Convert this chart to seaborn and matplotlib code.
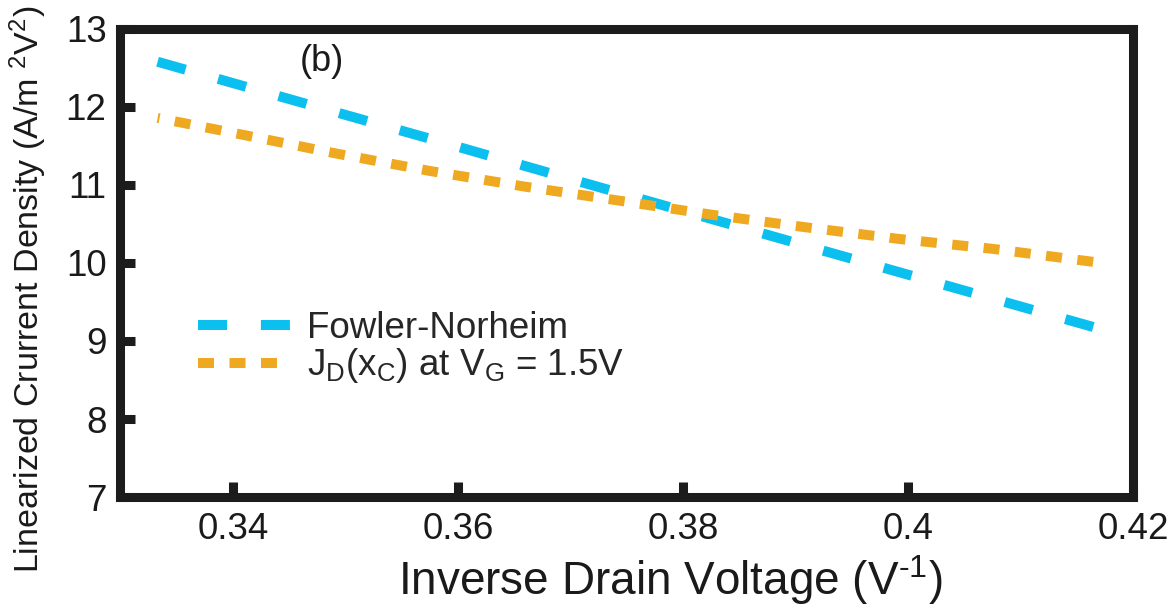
import matplotlib
matplotlib.use("Agg")
import matplotlib.pyplot as plt
import seaborn as sns
import pandas as pd
from matplotlib.ticker import FormatStrFormatter

# ---- data ----
fn_x = [0.3333, 0.3448, 0.3571, 0.3704, 0.3846, 0.4000, 0.4167]
fn_y = [12.58, 12.11, 11.61, 11.06, 10.48, 9.85, 9.17]

jd_x = [0.3333, 0.3410, 0.3493, 0.3575, 0.3659, 0.3743, 0.3825, 0.3908, 0.3991, 0.4076, 0.4167]
jd_y = [11.86, 11.64, 11.40, 11.18, 10.98, 10.80, 10.62, 10.46, 10.31, 10.18, 10.01]

x_ticks = [0.34, 0.36, 0.38, 0.40, 0.42]
y_ticks = [7, 8, 9, 10, 11, 12, 13]

label_fn = "Fowler-Norheim"
label_jd = r"J$_\mathrm{D}$(x$_\mathrm{C}$) at V$_\mathrm{G}$ = 1.5V"
xlabel = r"Inverse Drain Voltage (V$^{\text{-1}}$)"
ylabel = r"Linearized Crurrent Density (A/m $^{2}$V$^{2}$)"
panel = "(b)"

sns.set_style("white")
plt.rcParams["font.family"] = ["Liberation Sans", "DejaVu Sans"]
plt.rcParams["mathtext.fontset"] = "custom"
plt.rcParams["mathtext.rm"] = "Liberation Sans"
plt.rcParams["mathtext.it"] = "Liberation Sans:italic"
plt.rcParams["mathtext.bf"] = "Liberation Sans:bold"

fig = plt.figure(figsize=(11.73, 6.09), dpi=100)
ax = fig.add_axes([0.1027, 0.1839, 0.9659 - 0.1027, 0.9524 - 0.1839])

blue = "#0BBFEE"
orange = "#EFA921"
lw = 7.2

df_fn = pd.DataFrame({"x": fn_x, "y": fn_y})
df_jd = pd.DataFrame({"x": jd_x, "y": jd_y})

sns.lineplot(data=df_fn, x="x", y="y", ax=ax, color=blue, lw=lw,
             linestyle=(0, (2.9, 3.39)), label=label_fn, sort=False)
sns.lineplot(data=df_jd, x="x", y="y", ax=ax, color=orange, lw=lw,
             linestyle=(1.4, (1.6, 1.55)), label=label_jd, sort=False)
for ln in ax.get_lines():
    ln.set_dash_capstyle("butt")

ax.set_xlim(0.33, 0.42)
ax.set_ylim(7, 13)
ax.set_xticks(x_ticks)
ax.set_yticks(y_ticks)
ax.xaxis.set_major_formatter(FormatStrFormatter("%g"))

for s in ax.spines.values():
    s.set_linewidth(6.5)
    s.set_color("#1c1c1c")
    s.set_visible(True)

ax.tick_params(axis="both", direction="in", length=10.5, width=6.5,
               color="#1c1c1c", labelsize=26.5, labelcolor="#1a1a1a",
               bottom=True, left=True, top=False, right=False)
ax.tick_params(axis="x", pad=11)
ax.tick_params(axis="y", pad=10)

ax.set_xlabel(xlabel, fontsize=33, color="#1a1a1a")
ax.xaxis.label.set_va("center")
ax.xaxis.set_label_coords(0.543, -0.177)
ax.set_ylabel(ylabel, fontsize=24.5, color="#1a1a1a")
ax.yaxis.label.set_va("center")
ax.yaxis.set_label_coords(-0.091, 0.444)

ax.text(0.3479, 12.58, panel, fontsize=26, ha="center", va="center", color="#1a1a1a")

leg = ax.legend(loc="upper left", bbox_to_anchor=(0.0765, 0.398), frameon=False,
                fontsize=26.5, handlelength=2.55, handletextpad=0.42,
                labelspacing=0.02, borderaxespad=0, borderpad=0)
for h in leg.get_lines():
    h.set_dash_capstyle("butt")
leg.get_lines()[1].set_linestyle((0, (1.6, 1.55)))

fig.savefig("out.png", dpi=100)
